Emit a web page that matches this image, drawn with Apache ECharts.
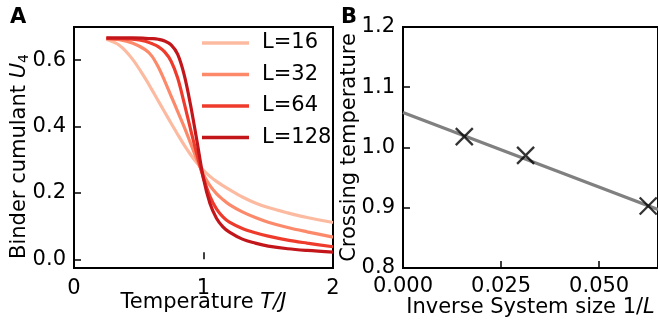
<!DOCTYPE html>
<html><head><meta charset="utf-8">
<script src="https://cdn.jsdelivr.net/npm/echarts@6/dist/echarts.min.js"></script>
<style>html,body{margin:0;padding:0;background:#fff}#c{width:658px;height:326px}</style>
</head><body><div id="c"></div>
<script>
// Panel A: Binder cumulant vs temperature
const temps = [0.25,0.35,0.45,0.55,0.6,0.65,0.7,0.75,0.8,0.85,0.9,0.95,1.0,1.05,1.1,1.15,1.2,1.3,1.4,1.5,1.65,1.8,2.0];
const u16  = [0.663,0.645,0.604,0.545,0.512,0.478,0.444,0.410,0.377,0.345,0.316,0.290,0.268,0.250,0.235,0.222,0.210,0.188,0.170,0.156,0.140,0.126,0.111];
const u32  = [0.665,0.662,0.652,0.632,0.613,0.580,0.538,0.492,0.446,0.400,0.350,0.300,0.255,0.222,0.198,0.180,0.165,0.143,0.126,0.112,0.096,0.083,0.067];
const u64  = [0.666,0.665,0.663,0.657,0.650,0.641,0.625,0.597,0.547,0.472,0.392,0.315,0.245,0.190,0.152,0.128,0.112,0.093,0.080,0.070,0.058,0.049,0.038];
const u128 = [0.667,0.667,0.667,0.666,0.665,0.663,0.658,0.646,0.618,0.557,0.465,0.355,0.243,0.168,0.124,0.098,0.082,0.061,0.049,0.040,0.032,0.027,0.022];
const sizeLabels = ['L=16','L=32','L=64','L=128'];
const curveColors = ['#fcbba1','#fc8a6a','#ef3b2c','#c3161b'];
const aXTicks = [0,1,2];
const aYTicks = [0,0.2,0.4,0.6];

// Panel B: crossing temperature vs inverse size
const invSize = [0.015625, 0.03125, 0.0625];
const crossTemp = [1.018, 0.987, 0.903];
const fitX = [0, 0.065];
const fitY = [1.058, 0.897];
const bXTicks = [0, 0.025, 0.05];
const bYTicks = [0.8, 0.9, 1.0, 1.1, 1.2];

const FONT = 'DejaVu Sans';
const FS = 21;
const allU = [u16,u32,u64,u128];
const pairs = (xs, ys) => xs.map((x,i)=>[x, ys[i]]);

const chart = echarts.init(document.getElementById('c'), null, {renderer:'canvas'});

const tick = vals => ({show:true, inside:true, length:7, customValues:vals, lineStyle:{color:'#000', width:1.5}});
const lab = (vals, fmt, m) => ({color:'#000', fontFamily:FONT, fontSize:FS, margin:m, customValues:vals, formatter:fmt});
const rich = {i:{fontStyle:'italic', fontFamily:FONT, fontSize:FS, color:'#000'},
              s:{fontFamily:FONT, fontSize:14, color:'#000', padding:[9,0,0,0]}};

const option = {
  animation:false,
  textStyle:{fontFamily:FONT},
  grid:[
    {left:74, right:325, top:27, bottom:58, show:true, borderColor:'#000', borderWidth:2, backgroundColor:'transparent'},
    {left:403, right:-4, top:27, bottom:58, show:true, borderColor:'#000', borderWidth:2, backgroundColor:'transparent'}
  ],
  xAxis:[
    {type:'value', gridIndex:0, min:0, max:2, axisLine:{show:false}, splitLine:{show:false},
     axisTick:tick(aXTicks), axisLabel:lab(aXTicks, v=>String(v), 10),
     name:'Temperature {i|T/J}', nameLocation:'middle', nameGap:24, nameMoveOverlap:false,
     nameTextStyle:{color:'#000', fontFamily:FONT, fontSize:FS, rich}},
    {type:'value', gridIndex:1, min:0, max:0.065, axisLine:{show:false}, splitLine:{show:false},
     axisTick:tick(bXTicks), axisLabel:lab(bXTicks, v=>v.toFixed(3), 8),
     name:'Inverse System size 1/{i|L}', nameLocation:'middle', nameGap:29, nameMoveOverlap:false,
     nameTextStyle:{color:'#000', fontFamily:FONT, fontSize:FS, rich}}
  ],
  yAxis:[
    {type:'value', gridIndex:0, min:-0.026, max:0.70, axisLine:{show:false}, splitLine:{show:false},
     axisTick:tick(aYTicks), axisLabel:lab(aYTicks, v=>v.toFixed(1), 8),
     name:'Binder cumulant {i|U}{s|4}', nameLocation:'middle', nameGap:43, nameMoveOverlap:false,
     nameTextStyle:{color:'#000', fontFamily:FONT, fontSize:FS, rich, padding:[0,18,0,0]}},
    {type:'value', gridIndex:1, min:0.8, max:1.2, axisLine:{show:false}, splitLine:{show:false},
     axisTick:tick(bYTicks), axisLabel:lab(bYTicks, v=>v.toFixed(1), 8),
     name:'Crossing temperature', nameLocation:'middle', nameGap:43, nameMoveOverlap:false,
     nameTextStyle:{color:'#000', fontFamily:FONT, fontSize:FS}}
  ],
  legend:{
    left:197, top:27, orient:'vertical', icon:'rect', itemWidth:47, itemHeight:3.5, itemGap:9.5,
    data:sizeLabels,
    textStyle:{color:'#000', fontFamily:FONT, fontSize:FS, lineHeight:22, padding:[0,0,0,8]}
  },
  graphic:[
    {type:'text', left:10, top:7, style:{text:'A', font:'bold 21px "DejaVu Sans"', fill:'#000'}},
    {type:'text', left:341, top:7, style:{text:'B', font:'bold 21px "DejaVu Sans"', fill:'#000'}}
  ],
  series:[
    ...sizeLabels.map((name,k)=>({
      type:'line', name, xAxisIndex:0, yAxisIndex:0,
      data:pairs(temps, allU[k]), smooth:0.35, showSymbol:false, symbol:'none',
      lineStyle:{color:curveColors[k], width:3.2}, itemStyle:{color:curveColors[k]}, z:2+k
    })),
    {type:'line', name:'fit', xAxisIndex:1, yAxisIndex:1, data:pairs(fitX, fitY),
     showSymbol:false, symbol:'none', lineStyle:{color:'#808080', width:3.2}, z:2},
    {type:'scatter', name:'cross', xAxisIndex:1, yAxisIndex:1, data:pairs(invSize, crossTemp),
     symbol:'path://M0,0 L10,10 M10,0 L0,10', symbolSize:17,
     itemStyle:{color:'transparent', borderColor:'#000', borderWidth:2.3}, z:3}
  ]
};
chart.setOption(option);
</script></body></html>
